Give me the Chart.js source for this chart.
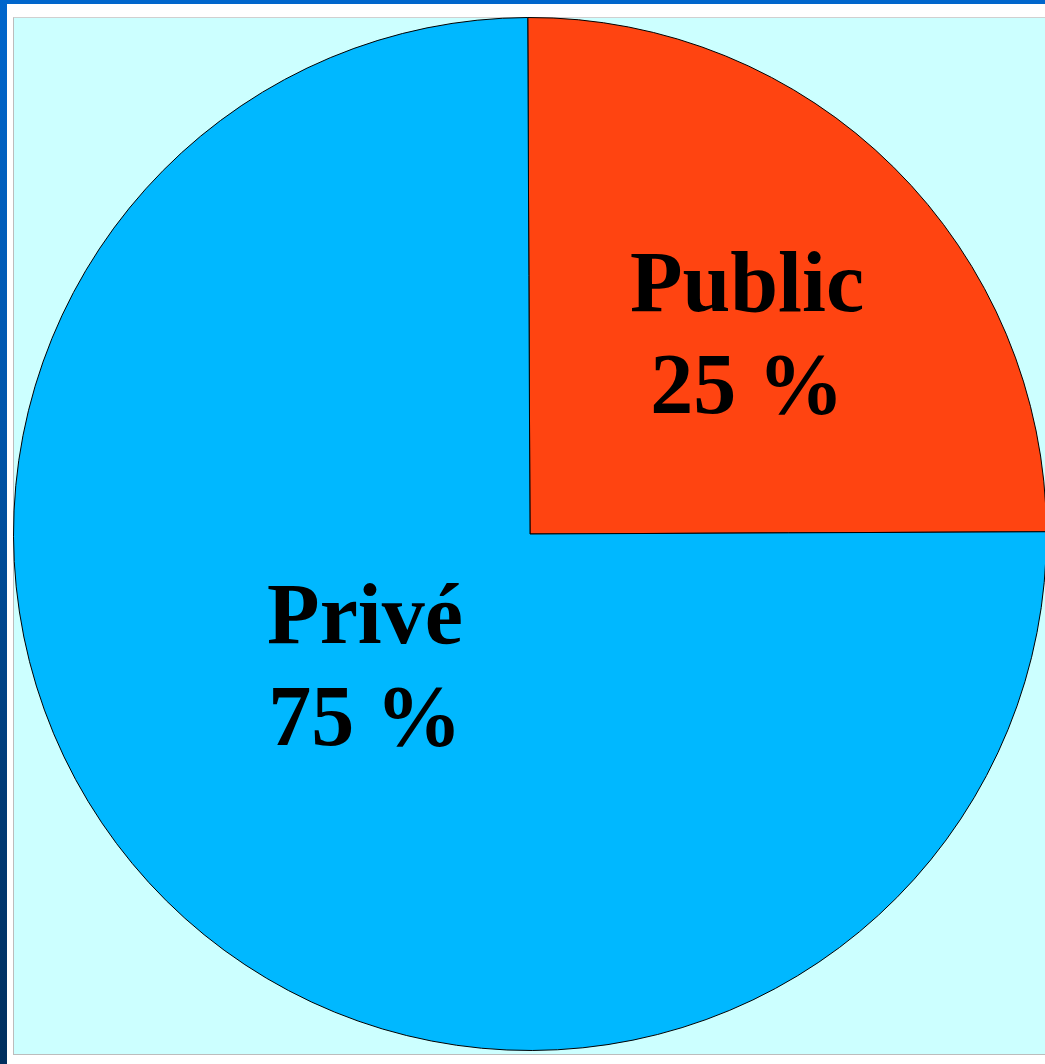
<!DOCTYPE html>
<html>
<head>
<meta charset="utf-8">
<script src="https://cdn.jsdelivr.net/npm/chart.js@4"></script>
<style>
  html, body { margin: 0; padding: 0; width: 1045px; height: 1064px; overflow: hidden; background: #ffffff; }
  #topband { position: absolute; left: 0; top: 0; width: 1045px; height: 4px; background: #0066cc; }
  #leftband { position: absolute; left: 0; top: 0; width: 7px; height: 1064px;
              background: linear-gradient(to bottom, #0066cc 0%, #0055aa 40%, #003a75 75%, #002f5e 100%); }
  #panel { position: absolute; left: 13px; top: 17px; width: 1040px; height: 1038px;
           background: #ccffff; border-left: 1px solid #bcbcbc; border-bottom: 1px solid #bcbcbc; border-top: 1px solid #d0d0d0; box-sizing: border-box; }
  #wrap { position: absolute; left: 12px; top: 17px; width: 1036px; height: 1034px; }
</style>
</head>
<body>
<div id="topband"></div>
<div id="leftband"></div>
<div id="panel"></div>
<div id="wrap"><canvas id="pie-chart"></canvas></div>
<script>
// données du graphique
const categories = ["Public", "Privé"];
const shares = [25, 75];
const sliceColors = ["#ff4411", "#00b8ff"];

// étiquettes dans les parts (position en pixels par rapport au centre)
const labelPlugin = {
    id: 'sliceLabels',
    afterDatasetsDraw(chart, args, opts) {
        const arc = chart.getDatasetMeta(0).data[0];
        const cx = arc.x, cy = arc.y;
        const ctx = chart.ctx;
        ctx.save();
        ctx.font = 'bold 86px "Liberation Serif", "Times New Roman", serif';
        ctx.fillStyle = '#000000';
        ctx.textAlign = 'center';
        ctx.textBaseline = 'alphabetic';
        categories.forEach(function (name, i) {
            const p = opts.positions[i];
            ctx.fillText(name, cx + p.dx, cy + p.dy);
            ctx.fillText(shares[i] + ' %', cx + p.dx, cy + p.dy + opts.lineHeight);
        });
        ctx.restore();
    }
};

var ctx = document.getElementById("pie-chart").getContext("2d");
var myChart = new Chart(ctx, {
    type: "pie",
    data: {
        labels: categories,
        datasets: [{
            data: shares,
            backgroundColor: sliceColors,
            borderColor: "#000000",
            borderWidth: 1
        }]
    },
    options: {
        responsive: true,
        maintainAspectRatio: false,
        animation: false,
        rotation: -0.25,
        layout: { padding: 0 },
        plugins: {
            legend: { display: false },
            tooltip: { enabled: false },
            sliceLabels: {
                lineHeight: 102,
                positions: [{ dx: 217, dy: -223 }, { dx: -165, dy: 109 }]
            }
        }
    },
    plugins: [labelPlugin]
});
</script>
</body>
</html>
